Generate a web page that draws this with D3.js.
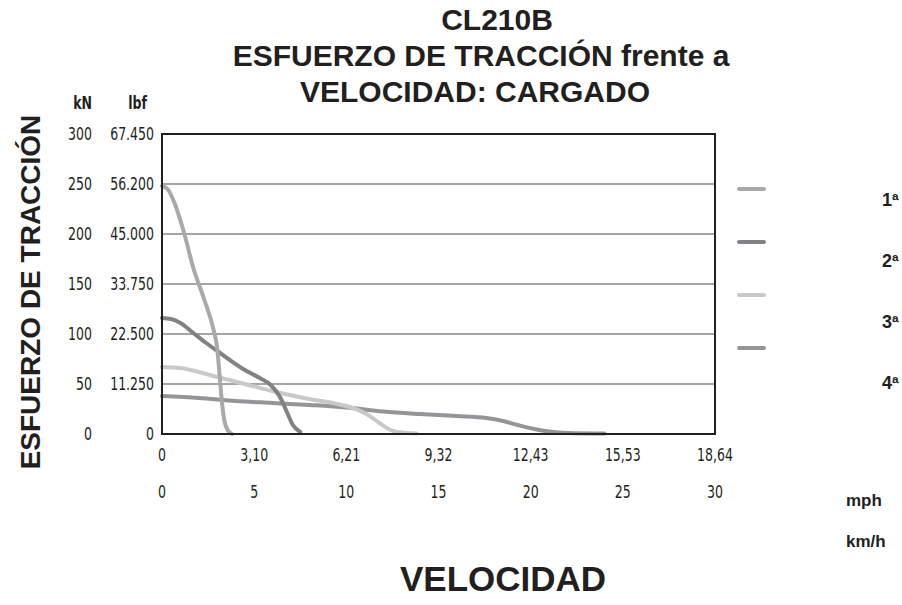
<!DOCTYPE html>
<html>
<head>
<meta charset="utf-8">
<script src="https://cdn.jsdelivr.net/npm/d3@7"></script>
<style>
  body { margin: 0; background: #fff; }
  svg { display: block; }
  .narrow { font-family: "Liberation Sans Narrow", "DejaVu Sans Condensed", sans-serif; }
  .bold { font-family: "Liberation Sans", Arial, sans-serif; font-weight: bold; }
</style>
</head>
<body>
<svg id="chart" width="902" height="605"></svg>
<script>
// km/h ticks and their mph equivalents
const kmhTicks = [0, 5, 10, 15, 20, 25, 30];
const mphLabels = ["0", "3,10", "6,21", "9,32", "12,43", "15,53", "18,64"];
// kN ticks and lbf equivalents
const knTicks = [0, 50, 100, 150, 200, 250, 300];
const lbfLabels = ["0", "11.250", "22.500", "33.750", "45.000", "56.200", "67.450"];

const gears = ["1ª", "2ª", "3ª", "4ª"];
const gearColors = ["#a7a9ac", "#808285", "#c8c9cb", "#939598"];

// [km/h, kN]
const gear1 = [[0, 248], [0.3, 245], [0.7, 230], [1.2, 201], [1.7, 166], [2.3, 134], [2.8, 104],
  [3.0, 85], [3.12, 60], [3.25, 32], [3.4, 12], [3.6, 3], [3.8, 0]];
const gear2 = [[0, 116], [0.5, 115], [1.0, 111], [1.7, 101], [2.4, 91], [3.15, 81], [4.4, 65],
  [5.3, 56], [5.9, 49], [6.4, 37], [6.8, 21], [7.1, 9], [7.5, 2]];
const gear3 = [[0, 67], [1, 66], [2, 62], [3, 57], [4.5, 50], [6.2, 42], [8, 35], [9.5, 30],
  [10.2, 27], [11.1, 20], [11.8, 11], [12.4, 4], [13, 1.5], [13.8, 0.5]];
const gear4 = [[0, 38], [2, 36], [4, 33], [6, 31], [8, 29], [10, 26.5], [12, 22.5], [14, 20],
  [16, 18], [17.6, 16], [18.5, 13], [19.3, 9], [20.2, 5], [21, 2.5], [22, 1], [24, 0.5]];
const series = [gear1, gear2, gear3, gear4];

const svg = d3.select("#chart");
const x = d3.scaleLinear().domain([0, 30]).range([162, 715]);
const y = d3.scaleLinear().domain([0, 300]).range([434, 134]);
const squeeze = 0.82; // the original tick font is a condensed face

// title
const title = svg.append("g").attr("class", "bold").attr("font-size", 30).attr("fill", "#231f20")
  .attr("text-anchor", "middle");
title.append("text").attr("x", 497).attr("y", 30).text("CL210B");
title.append("text").attr("x", 481).attr("y", 66).text("ESFUERZO DE TRACCIÓN frente a");
title.append("text").attr("x", 475).attr("y", 102).text("VELOCIDAD: CARGADO");

// gridlines
svg.append("g").selectAll("line")
  .data(knTicks.filter(d => d > 0 && d < 300))
  .join("line")
  .attr("x1", x(0)).attr("x2", x(30))
  .attr("y1", d => y(d)).attr("y2", d => y(d))
  .attr("stroke", "#4d4d4f").attr("stroke-width", 1.2);

// curves
const line = d3.line().x(d => x(d[0])).y(d => y(d[1])).curve(d3.curveMonotoneX);
const order = [3, 2, 1, 0];
svg.append("g").selectAll("path")
  .data(order)
  .join("path")
  .attr("d", i => line(series[i]))
  .attr("fill", "none")
  .attr("stroke", i => gearColors[i])
  .attr("stroke-width", 4)
  .attr("stroke-linecap", "round");

// frame
svg.append("rect")
  .attr("x", x(0)).attr("y", y(300))
  .attr("width", x(30) - x(0)).attr("height", y(0) - y(300))
  .attr("fill", "none").attr("stroke", "#231f20").attr("stroke-width", 2);

const at = (px, py) => `translate(${px},${py}) scale(${squeeze},1)`;

// y labels
const yl = svg.append("g").attr("class", "narrow").attr("font-size", 17).attr("fill", "#231f20")
  .attr("text-anchor", "end");
yl.selectAll(".kn").data(knTicks).join("text").attr("class", "kn")
  .attr("transform", d => at(92, y(d) + 6)).text(d => d);
yl.selectAll(".lbf").data(knTicks).join("text").attr("class", "lbf")
  .attr("transform", d => at(154, y(d) + 6)).text((d, i) => lbfLabels[i]);
yl.append("text").attr("transform", at(92, 109)).attr("font-weight", "bold").text("kN");
yl.append("text").attr("transform", at(147, 109)).attr("font-weight", "bold").text("lbf");

// x labels
const xl = svg.append("g").attr("class", "narrow").attr("font-size", 17).attr("fill", "#231f20")
  .attr("text-anchor", "middle");
xl.selectAll(".mph").data(kmhTicks).join("text").attr("class", "mph")
  .attr("transform", d => at(x(d), 461)).text((d, i) => mphLabels[i]);
xl.selectAll(".kmh").data(kmhTicks).join("text").attr("class", "kmh")
  .attr("transform", d => at(x(d), 498)).text(d => d);

// unit labels
svg.append("text").attr("class", "bold").attr("font-size", 17).attr("fill", "#231f20")
  .attr("x", 846).attr("y", 506).text("mph");
svg.append("text").attr("class", "bold").attr("font-size", 17).attr("fill", "#231f20")
  .attr("x", 846).attr("y", 547).text("km/h");

// axis titles
svg.append("text").attr("class", "bold").attr("font-size", 35).attr("fill", "#231f20")
  .attr("text-anchor", "middle").attr("x", 503).attr("y", 591).text("VELOCIDAD");
svg.append("text").attr("class", "bold").attr("font-size", 28).attr("fill", "#231f20")
  .attr("text-anchor", "middle")
  .attr("transform", "translate(40,292) rotate(-90)").text("ESFUERZO DE TRACCIÓN");

// legend
const legY = [189, 242, 295, 348];
const labY = [206, 267, 328, 389];
const leg = svg.append("g");
leg.selectAll("line").data(gears).join("line")
  .attr("x1", 739).attr("x2", 764)
  .attr("y1", (d, i) => legY[i]).attr("y2", (d, i) => legY[i])
  .attr("stroke", (d, i) => gearColors[i]).attr("stroke-width", 4).attr("stroke-linecap", "round");
leg.selectAll("text").data(gears).join("text").attr("class", "bold")
  .attr("font-size", 18).attr("fill", "#231f20")
  .attr("x", 882).attr("y", (d, i) => labY[i]).text(d => d);
</script>
</body>
</html>
